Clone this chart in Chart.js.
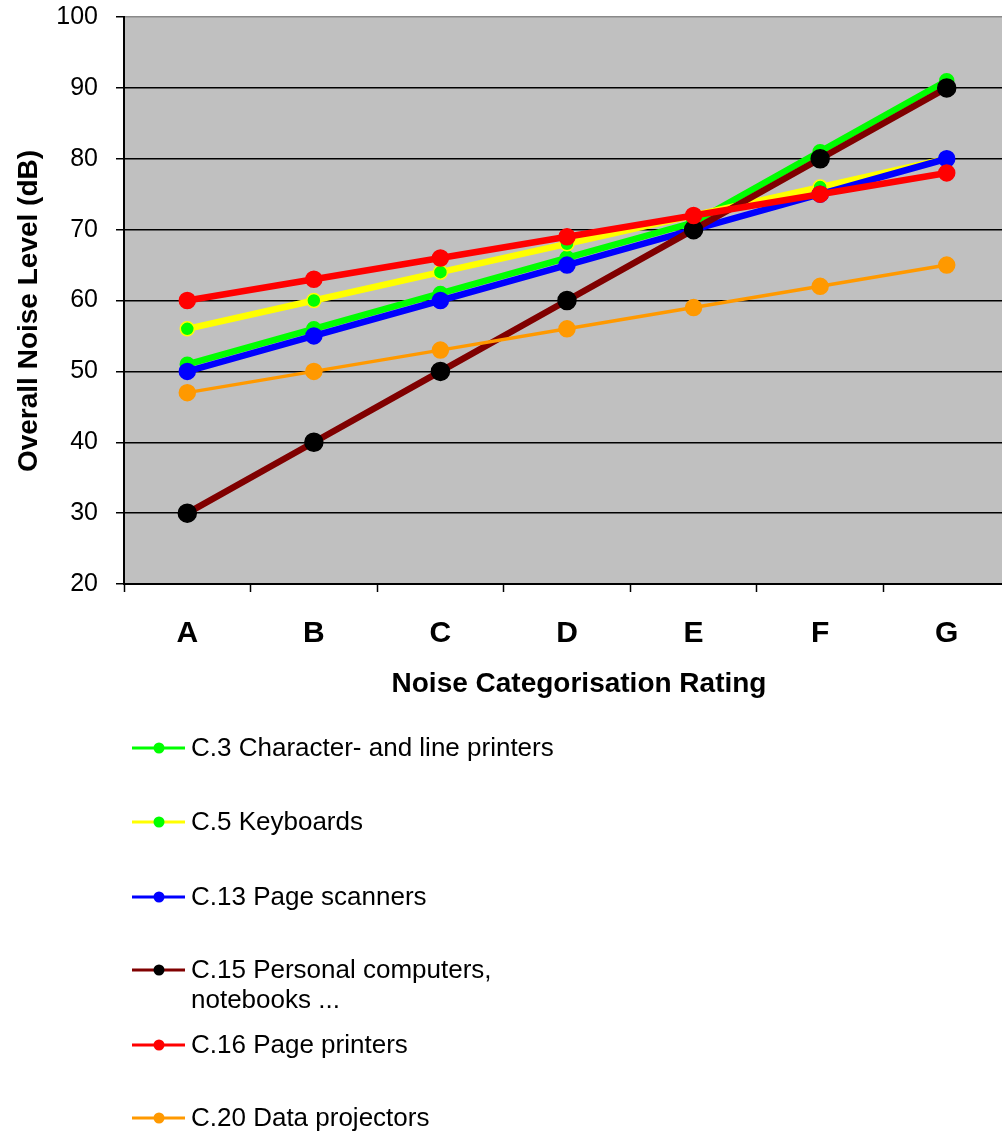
<!DOCTYPE html>
<html>
<head>
<meta charset="utf-8">
<title>Overall Noise Level by Noise Categorisation Rating</title>
<script src="https://cdn.jsdelivr.net/npm/chart.js@4/dist/chart.umd.min.js"></script>
<style>
  html, body { margin: 0; padding: 0; background: #ffffff; overflow: hidden; }
  #wrap { width: 1012px; height: 1135px; }
</style>
</head>
<body>
<div id="wrap"><canvas id="noiseChart" width="1012" height="1135"></canvas></div>
<script>
// Categories and axis range
const ratings = ['A', 'B', 'C', 'D', 'E', 'F', 'G'];
const yMin = 20;
const yMax = 100;
const yStep = 10;

// Series names (legend text; an array entry wraps onto several lines)
const seriesNames = [
  'C.3 Character- and line printers',
  'C.5 Keyboards',
  'C.13 Page scanners',
  ['C.15 Personal computers,', 'notebooks ...'],
  'C.16 Page printers',
  'C.20 Data projectors'
];

// Overall noise level (dB) per rating
const linePrinters   = [51, 56, 61, 66, 71, 81, 91];
const keyboards      = [56, 60, 64, 68, 72, 76, 80];
const pageScanners   = [50, 55, 60, 65, 70, 75, 80];
const computers      = [30, 40, 50, 60, 70, 80, 90];
const pagePrinters   = [60, 63, 66, 69, 72, 75, 78];
const dataProjectors = [47, 50, 53, 56, 59, 62, 65];

const xTitle = 'Noise Categorisation Rating';
const yTitle = 'Overall Noise Level (dB)';

const FONT = "'Liberation Sans', Arial, Helvetica, sans-serif";

// Visual style per series: line colour, marker colour, line width, marker radius
const styles = [
  { line: '#00FF00', marker: '#00FF00', border: '#00FF00', width: 6.5, radius: 7 },
  { line: '#FFFF00', marker: '#00FF00', border: '#FFFF00', width: 6.5, radius: 7 },
  { line: '#0000FF', marker: '#0000FF', border: '#0000FF', width: 6.5, radius: 8 },
  { line: '#800000', marker: '#000000', border: '#000000', width: 6.5, radius: 9 },
  { line: '#FF0000', marker: '#FF0000', border: '#FF0000', width: 6.5, radius: 8 },
  { line: '#FF9900', marker: '#FF9900', border: '#FF9900', width: 3.5, radius: 8 }
];

const values = [linePrinters, keyboards, pageScanners, computers, pagePrinters, dataProjectors];

const datasets = values.map((data, i) => ({
  label: Array.isArray(seriesNames[i]) ? seriesNames[i].join(' ') : seriesNames[i],
  data: data,
  borderColor: styles[i].line,
  borderWidth: styles[i].width,
  backgroundColor: styles[i].marker,
  pointBackgroundColor: styles[i].marker,
  pointBorderColor: styles[i].border,
  pointBorderWidth: 1.5,
  pointRadius: styles[i].radius,
  pointHoverRadius: styles[i].radius,
  tension: 0,
  fill: false,
  // later series are painted over earlier ones
  order: values.length - 1 - i
}));

// Grey plot-area background
const plotBackground = {
  id: 'plotBackground',
  beforeDraw(chart) {
    const { ctx, chartArea: a } = chart;
    ctx.save();
    ctx.fillStyle = '#C0C0C0';
    ctx.fillRect(a.left, a.top, a.right - a.left, a.bottom - a.top);
    ctx.restore();
  }
};

// Axis titles and the vertical legend beneath the plot
const titlesAndLegend = {
  id: 'titlesAndLegend',
  afterDraw(chart) {
    const { ctx } = chart;
    ctx.save();
    ctx.fillStyle = '#000000';

    // x-axis title
    ctx.font = 'bold 28px ' + FONT;
    ctx.textAlign = 'center';
    ctx.textBaseline = 'alphabetic';
    ctx.fillText(xTitle, 579, 692);

    // y-axis title
    ctx.save();
    ctx.translate(37, 311);
    ctx.rotate(-Math.PI / 2);
    ctx.textAlign = 'center';
    ctx.textBaseline = 'alphabetic';
    ctx.fillText(yTitle, 0, 0);
    ctx.restore();

    // legend
    const rowY = [748, 822, 897, 970, 1045, 1118];
    ctx.font = '26px ' + FONT;
    ctx.textAlign = 'left';
    ctx.textBaseline = 'middle';
    seriesNames.forEach((name, i) => {
      const y = rowY[i];
      ctx.strokeStyle = styles[i].line;
      ctx.lineWidth = 3;
      ctx.beginPath();
      ctx.moveTo(132, y);
      ctx.lineTo(185, y);
      ctx.stroke();
      ctx.fillStyle = styles[i].marker;
      ctx.beginPath();
      ctx.arc(159, y, 5.5, 0, Math.PI * 2);
      ctx.fill();
      ctx.fillStyle = '#000000';
      const lines = Array.isArray(name) ? name : [name];
      lines.forEach((t, k) => ctx.fillText(t, 191, y + 1 + k * 30));
    });
    ctx.restore();
  }
};

new Chart(document.getElementById('noiseChart'), {
  type: 'line',
  data: { labels: ratings, datasets: datasets },
  options: {
    responsive: false,
    animation: false,
    devicePixelRatio: 1,
    layout: { autoPadding: false, padding: { top: 17, right: 2, left: 0, bottom: 0 } },
    plugins: {
      legend: { display: false },
      tooltip: { enabled: false },
      title: { display: false }
    },
    scales: {
      x: {
        type: 'category',
        offset: true,
        afterFit(scale) {
          scale.height = 1135 - 584;
          scale.paddingLeft = 0;
          scale.paddingRight = 0;
        },
        grid: {
          display: true,
          offset: true,
          drawOnChartArea: false,
          drawTicks: true,
          tickLength: 8,
          tickColor: '#000000',
          tickWidth: 1.5
        },
        border: { display: true, color: '#000000', width: 2 },
        ticks: {
          color: '#000000',
          font: { family: FONT, size: 30, weight: 'bold' },
          padding: 24,
          maxRotation: 0,
          autoSkip: false
        }
      },
      y: {
        min: yMin,
        max: yMax,
        afterFit(scale) {
          scale.width = 124;
          scale.paddingTop = 0;
          scale.paddingBottom = 0;
        },
        grid: {
          color: (c) => (c.tick && c.tick.value === yMax ? '#8a8a8a' : '#000000'),
          lineWidth: 1.5,
          drawTicks: true,
          tickLength: 8,
          tickColor: '#000000',
          tickWidth: 1.5
        },
        border: { display: true, color: '#000000', width: 2 },
        ticks: {
          stepSize: yStep,
          color: '#000000',
          font: { family: FONT, size: 25 },
          padding: 18
        }
      }
    }
  },
  plugins: [plotBackground, titlesAndLegend]
});
</script>
</body>
</html>
